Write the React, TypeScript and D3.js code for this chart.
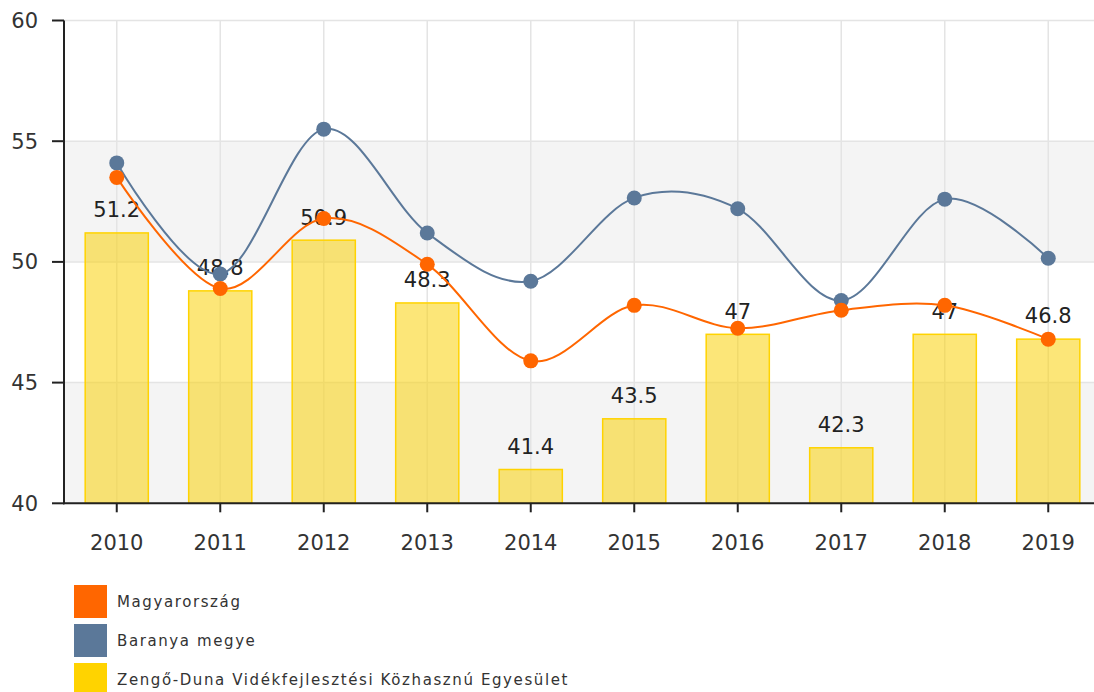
import React from "react";
import * as d3 from "d3";

const categories = ["2010", "2011", "2012", "2013", "2014", "2015", "2016", "2017", "2018", "2019"];
const magyarorszag = [53.5, 48.9, 51.8, 49.9, 45.9, 48.2, 47.25, 48.0, 48.2, 46.8];
const baranya = [54.1, 49.5, 55.5, 51.2, 49.2, 52.65, 52.2, 48.4, 52.6, 50.15];
const zengo = [51.2, 48.8, 50.9, 48.3, 41.4, 43.5, 47, 42.3, 47, 46.8];
const yTicks = [40, 45, 50, 55, 60];
const seriesNames = ["Magyarország", "Baranya megye", "Zengő-Duna Vidékfejlesztési Közhasznú Egyesület"];
const seriesColors = ["#FF6600", "#5B7899", "#FFD300"];

const W = 1094;
const H = 692;
const left = 64;
const top = 20.5;
const bottom = 503.3;
const FONT = "'DejaVu Sans', Verdana, sans-serif";

export default function App() {
  const x = d3.scaleBand<string>().domain(categories).range([65, 1100]);
  const y = d3.scaleLinear().domain([40, 60]).range([bottom, top]);
  const bw = x.bandwidth();
  const cx = (c: string) => (x(c) as number) + bw / 2;
  const barW = bw * 0.61;

  const line = d3
    .line<number>()
    .x((_, i) => cx(categories[i]))
    .y((d) => y(d))
    .curve(d3.curveCatmullRom.alpha(0));

  const bands: [number, number][] = [
    [50, 55],
    [40, 45],
  ];

  return (
    <div style={{ position: "fixed", left: 0, top: 0, width: W, height: H, overflow: "hidden", background: "#fff" }}>
      <svg width={1110} height={H} style={{ display: "block" }}>
        {bands.map(([a, b], i) => (
          <rect key={"band" + i} x={left} y={y(b)} width={1110 - left} height={y(a) - y(b)} fill="#f4f4f4" />
        ))}
        {yTicks.map((t) => (
          <line key={"hg" + t} x1={left} x2={1110} y1={y(t)} y2={y(t)} stroke="#e4e4e4" strokeWidth={1.5} />
        ))}
        {categories.map((c) => (
          <line key={"vg" + c} x1={cx(c)} x2={cx(c)} y1={top} y2={bottom} stroke="#e4e4e4" strokeWidth={1.5} />
        ))}
        {zengo.map((v, i) => (
          <rect
            key={"bar" + i}
            x={cx(categories[i]) - barW / 2}
            y={y(v)}
            width={barW}
            height={bottom - y(v)}
            fill="rgba(250,210,10,0.55)"
            stroke="#FFD300"
            strokeWidth={1.5}
          />
        ))}
        {zengo.map((v, i) => (
          <text
            key={"bl" + i}
            x={cx(categories[i])}
            y={y(v) - 23}
            dy="0.35em"
            textAnchor="middle"
            fontFamily={FONT}
            fontSize={21}
            fill="#222"
          >
            {String(v)}
          </text>
        ))}
        <path d={line(baranya) || ""} fill="none" stroke={seriesColors[1]} strokeWidth={2} />
        <path d={line(magyarorszag) || ""} fill="none" stroke={seriesColors[0]} strokeWidth={2} />
        {baranya.map((v, i) => (
          <circle key={"bd" + i} cx={cx(categories[i])} cy={y(v)} r={7.5} fill={seriesColors[1]} />
        ))}
        {magyarorszag.map((v, i) => (
          <circle key={"md" + i} cx={cx(categories[i])} cy={y(v)} r={7.5} fill={seriesColors[0]} />
        ))}
        <line x1={left} x2={left} y1={top} y2={bottom + 1} stroke="#222" strokeWidth={2} />
        {yTicks.map((t) => (
          <g key={"yt" + t}>
            <line x1={52} x2={left} y1={y(t)} y2={y(t)} stroke="#222" strokeWidth={2} />
            <text x={38} y={y(t)} dy="0.35em" textAnchor="end" fontFamily={FONT} fontSize={21} fill="#333">
              {t}
            </text>
          </g>
        ))}
        <line x1={left - 1} x2={1110} y1={bottom} y2={bottom} stroke="#222" strokeWidth={2} />
        {categories.map((c) => (
          <g key={"xt" + c}>
            <line x1={cx(c)} x2={cx(c)} y1={bottom} y2={bottom + 9} stroke="#222" strokeWidth={2} />
            <text x={cx(c)} y={543} dy="0.35em" textAnchor="middle" fontFamily={FONT} fontSize={21} fill="#333">
              {c}
            </text>
          </g>
        ))}
        {seriesNames.map((n, i) => (
          <g key={"lg" + i} transform={`translate(74, ${585 + i * 39})`}>
            <rect x={0} y={0} width={33} height={33} fill={seriesColors[i]} />
            <text x={43} y={17} dy="0.35em" fontFamily={FONT} fontSize={15} letterSpacing={1.6} fill="#333">
              {n}
            </text>
          </g>
        ))}
      </svg>
    </div>
  );
}
